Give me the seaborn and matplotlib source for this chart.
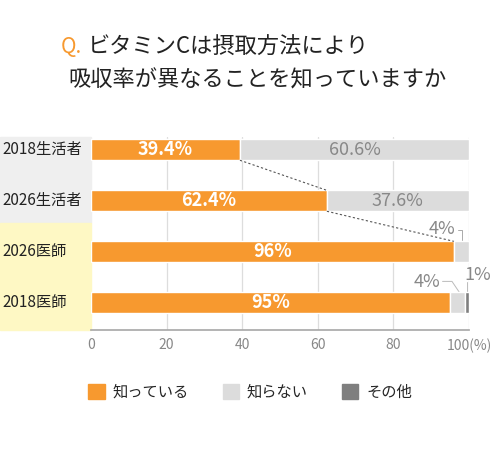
import matplotlib
matplotlib.use("Agg")
import matplotlib.pyplot as plt
import seaborn as sns
import pandas as pd
from matplotlib.patches import Rectangle, Patch

sns.set_theme(style="white")
plt.rcParams['font.family'] = ['Noto Sans CJK JP', 'DejaVu Sans']

categories = ["2018生活者", "2026生活者", "2026医師", "2018医師"]
know = [39.4, 62.4, 96, 95]
dont_know = [60.6, 37.6, 4, 4]
other = [0, 0, 0, 1]
know_labels = ["39.4%", "62.4%", "96%", "95%"]
dont_labels = ["60.6%", "37.6%", "", ""]
ticks = [0, 20, 40, 60, 80, 100]

ORANGE = "#F7992F"
LGRAY = "#DCDCDC"
DGRAY = "#7F7F7F"

fig = plt.figure(figsize=(5, 4.5), dpi=100)
ax = fig.add_axes([0.182, 0.267, 0.756, 0.429])

df = pd.DataFrame({"cat": categories, "know": know})
h = 0.41
sns.barplot(data=df, y="cat", x="know", color=ORANGE, orient="h", width=h, ax=ax, saturation=1, zorder=3)
for i, c in enumerate(categories):
    ax.barh(i, dont_know[i], left=know[i], height=h, color=LGRAY, zorder=3)
    if other[i]:
        ax.barh(i, other[i], left=know[i] + dont_know[i], height=h, color=DGRAY, zorder=3)
    ax.text(know[i] / 2, i, know_labels[i], color="white", ha="center", va="center", fontsize=13, fontweight="bold", zorder=5)
    if dont_labels[i]:
        ax.text(know[i] + dont_know[i] / 2, i, dont_labels[i], color="#888888", ha="center", va="center", fontsize=13, zorder=5)

# dotted connectors
ax.plot([know[0], know[1]], [0 + h / 2, 1 - h / 2], ls=(0, (2, 2)), color="#555555", lw=0.8, zorder=4)
ax.plot([know[1], know[2]], [1 + h / 2, 2 - h / 2], ls=(0, (2, 2)), color="#555555", lw=0.8, zorder=4)

# small annotations
ax.text(96.5, 1.55, "4%", color="#888888", fontsize=13, ha="right", va="center")
ax.plot([97, 98.2, 98.2], [1.58, 1.58, 1.78], color="#AAAAAA", lw=0.7)
ax.text(92.5, 2.6, "4%", color="#888888", fontsize=13, ha="right", va="center")
ax.plot([93, 95.5, 97.5], [2.58, 2.58, 2.8], color="#BBBBBB", lw=0.7)
ax.text(98.8, 2.45, "1%", color="#888888", fontsize=13, ha="left", va="center")
ax.plot([99.5, 99.5], [2.6, 2.78], color="#BBBBBB", lw=0.7)

ax.set_xlim(0, 100)
ax.set_ylim(3.53, -0.255)
ax.set_xticks(ticks)
ax.set_xticklabels(["0", "20", "40", "60", "80", "100(%)"], color="#888888", fontsize=10)
ax.tick_params(axis="x", length=0, pad=6)
ax.set_yticks([])
ax.set_xlabel("")
ax.set_ylabel("")
for x in ticks[1:]:
    ax.axvline(x, color="#DDDDDD", lw=0.9, zorder=1)
for s in ["top", "right", "left"]:
    ax.spines[s].set_visible(False)
ax.spines["bottom"].set_color("#AAAAAA")
ax.spines["bottom"].set_zorder(2)

# label panel
tr = ax.get_yaxis_transform()
ax.add_patch(Rectangle((-0.241, -0.255), 0.241, 1.685, transform=tr, color="#EFEFEF", clip_on=False, zorder=0))
ax.add_patch(Rectangle((-0.241, 1.43), 0.241, 2.1, transform=tr, color="#FEF8C4", clip_on=False, zorder=0))
for i, c in enumerate(categories):
    ax.text(-0.235, i, c, transform=tr, ha="left", va="center", fontsize=11, color="#222222")

# title
fig.text(0.122, 0.895, "Q.", color=ORANGE, fontsize=15, ha="left", va="center")
fig.text(0.176, 0.895, "ビタミンCは摂取方法により", color="#222222", fontsize=16, ha="left", va="center")
fig.text(0.136, 0.822, "吸収率が異なることを知っていますか", color="#222222", fontsize=16, ha="left", va="center")

handles = [Patch(color=ORANGE, label="知っている"), Patch(color=LGRAY, label="知らない"), Patch(color=DGRAY, label="その他")]
fig.legend(handles=handles, loc="center", bbox_to_anchor=(0.5, 0.128), ncol=3, frameon=False,
           fontsize=11, handlelength=1.1, handleheight=1.1, columnspacing=2.2, handletextpad=0.5)

fig.savefig("out.png", dpi=100)
